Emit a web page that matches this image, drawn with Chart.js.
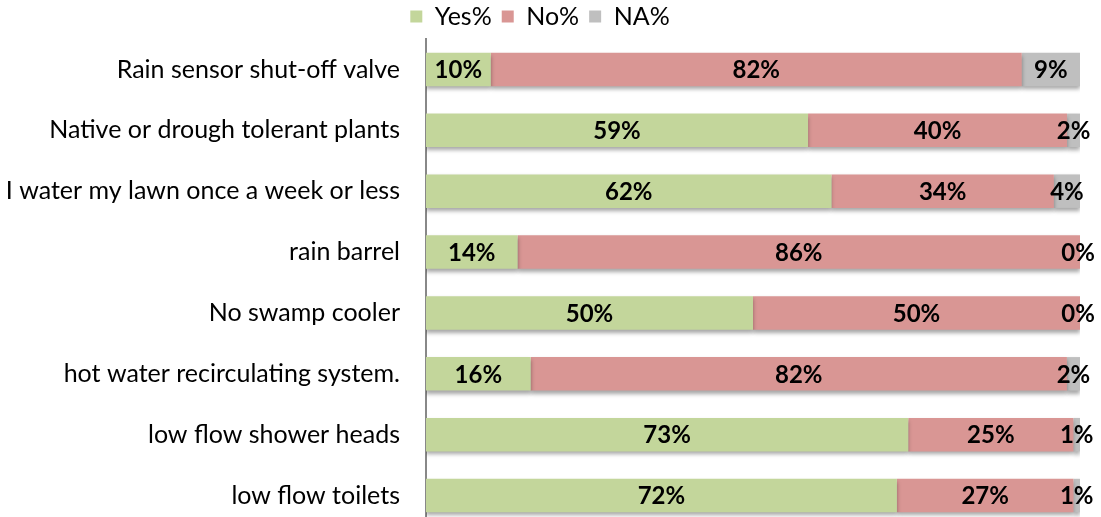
<!DOCTYPE html>
<html lang="en">
<head>
    <meta charset="UTF-8">
    <title>Water Saving Survey</title>
    <script src="https://cdn.jsdelivr.net/npm/chart.js"></script>
    <style>
        html, body {
            margin: 0;
            padding: 0;
            background: #fff;
            overflow: hidden;
        }
        canvas {
            display: block;
        }
    </style>
</head>
<body>
    <canvas id="chart" width="1101" height="530"></canvas>
    <script>
        // survey answers, in percent (as labelled on the bars)
        const categories = [
            'Rain sensor shut-off valve',
            'Native or drough tolerant plants',
            'I water my lawn once a week or less',
            'rain barrel',
            'No swamp cooler',
            'hot water recirculating system.',
            'low flow shower heads',
            'low flow toilets'
        ];
        const yesPct = [10, 59, 62, 14, 50, 16, 73, 72];
        const noPct = [82, 40, 34, 86, 50, 82, 25, 27];
        const naPct = [9, 2, 4, 0, 0, 2, 1, 1];

        // 100% stacked: scale each row to its own total
        const totals = categories.map((c, i) => yesPct[i] + noPct[i] + naPct[i]);
        const share = arr => arr.map((v, i) => v / totals[i] * 100);

        const labelFont = "Lato, 'Open Sans', sans-serif";

        // draws the bold value text in the middle of each segment
        const valueLabels = {
            id: 'valueLabels',
            afterDatasetsDraw(chart) {
                const ctx = chart.ctx;
                ctx.save();
                ctx.font = 'bold 24px ' + labelFont;
                ctx.fillStyle = '#000';
                ctx.textAlign = 'center';
                ctx.textBaseline = 'middle';
                chart.data.datasets.forEach((ds, di) => {
                    const meta = chart.getDatasetMeta(di);
                    meta.data.forEach((bar, i) => {
                        let cx = (bar.x + bar.base) / 2;
                        if (ds.raw[i] === 0) cx = bar.x - 2;
                        ctx.fillText(ds.raw[i] + '%', cx, bar.y + 1);
                    });
                });
                ctx.restore();
            }
        };

        // soft shadow under the bars
        const barShadow = {
            id: 'barShadow',
            beforeDatasetsDraw(chart) {
                const ctx = chart.ctx;
                ctx.save();
                ctx.shadowColor = 'rgba(0, 0, 0, 0.35)';
                ctx.shadowBlur = 4;
                ctx.shadowOffsetY = 3;
            },
            afterDatasetsDraw(chart) {
                chart.ctx.restore();
            }
        };

        const ctx = document.getElementById('chart').getContext('2d');
        new Chart(ctx, {
            type: 'bar',
            data: {
                labels: categories,
                datasets: [{
                    label: 'Yes%',
                    data: share(yesPct),
                    raw: yesPct,
                    backgroundColor: '#C3D69B'
                }, {
                    label: 'No%',
                    data: share(noPct),
                    raw: noPct,
                    backgroundColor: '#D99694'
                }, {
                    label: 'NA%',
                    data: share(naPct),
                    raw: naPct,
                    backgroundColor: '#BFBFBF'
                }]
            },
            options: {
                indexAxis: 'y',
                responsive: false,
                animation: false,
                datasets: {
                    bar: {
                        barPercentage: 0.55,
                        categoryPercentage: 1.0
                    }
                },
                layout: {
                    padding: { top: -6, right: 21, bottom: 4, left: 0 }
                },
                scales: {
                    x: {
                        stacked: true,
                        min: 0,
                        max: 100,
                        display: false
                    },
                    y: {
                        stacked: true,
                        grid: { display: false },
                        border: { color: '#888', width: 2 },
                        ticks: {
                            color: '#000',
                            padding: 18,
                            font: { family: labelFont, size: 25 }
                        },
                        afterFit(scale) {
                            // fixed left column, and no extra room above/below the rows
                            scale.width = 426;
                            scale.paddingTop = 0;
                            scale.paddingBottom = 0;
                        }
                    }
                },
                plugins: {
                    legend: {
                        position: 'top',
                        labels: {
                            color: '#000',
                            boxWidth: 12,
                            boxHeight: 12,
                            padding: 10,
                            font: { family: labelFont, size: 25 }
                        }
                    },
                    tooltip: { enabled: false }
                }
            },
            plugins: [barShadow, valueLabels]
        });
    </script>
</body>
</html>
